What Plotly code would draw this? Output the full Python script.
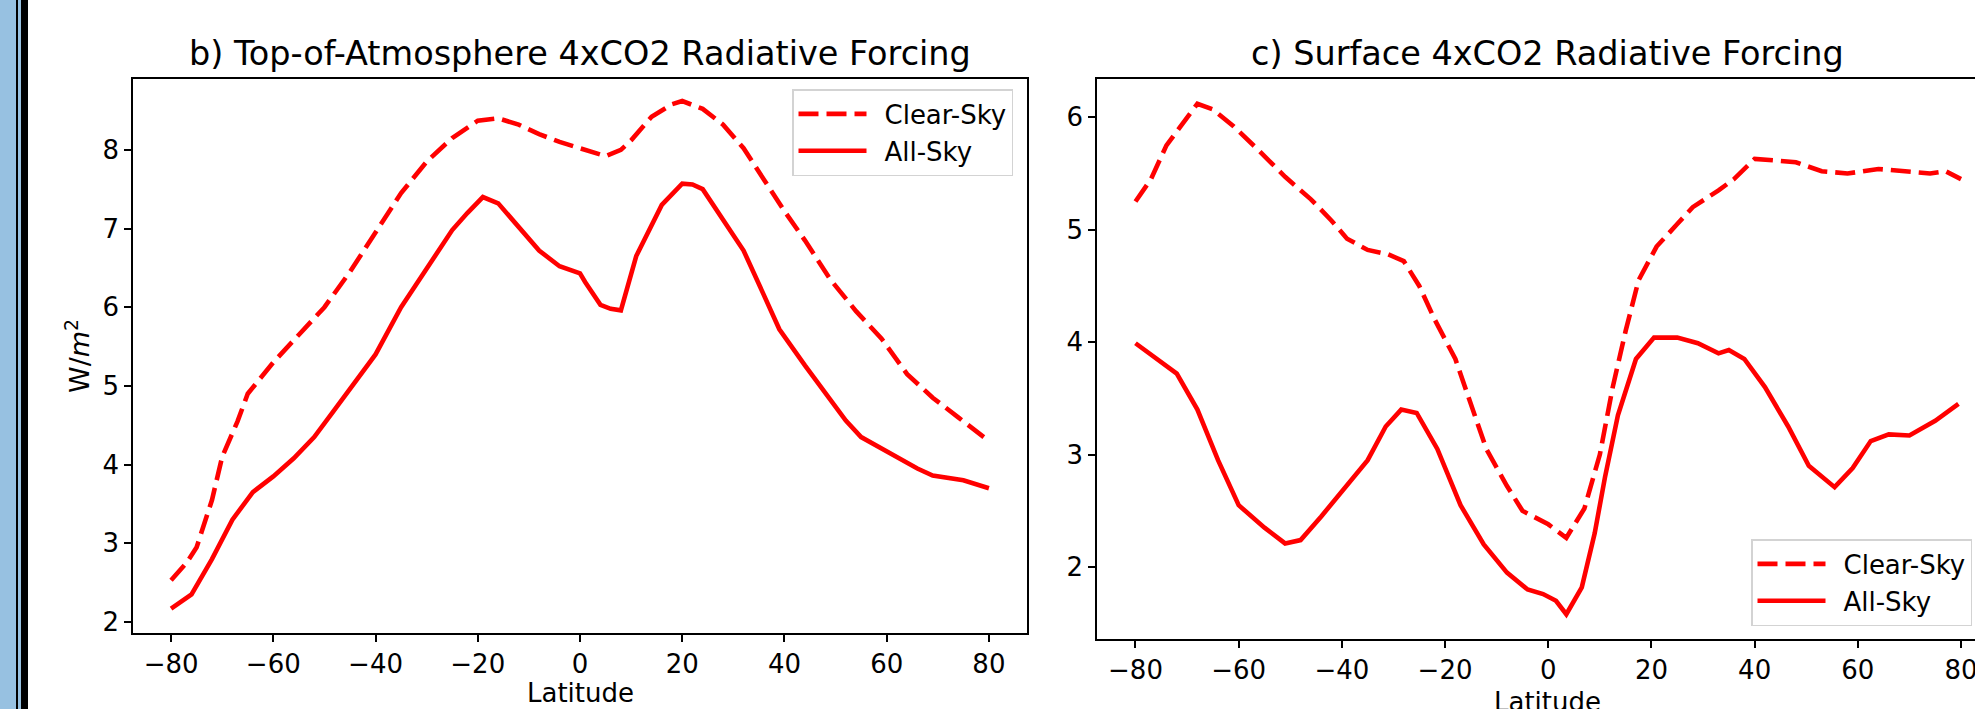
import plotly.graph_objects as go

W, H = 1975, 709

# ---------------- data ----------------
toa_clear_lat = [-80, -77, -75, -72, -70, -67, -65, -62, -60, -55, -50, -45, -40, -35, -30, -25,
                 -20, -16, -12, -8, -4, 0, 3, 5, 8, 10, 14, 18, 20, 24, 28, 32, 36, 40, 44,
                 49, 54, 59, 64, 69, 74, 80]
toa_clear = [2.53, 2.75, 2.95, 3.55, 4.1, 4.55, 4.9, 5.15, 5.3, 5.65, 6.0, 6.45, 6.95, 7.45, 7.85, 8.15,
             8.37, 8.4, 8.32, 8.2, 8.1, 8.02, 7.95, 7.92, 8.0, 8.12, 8.42, 8.58, 8.62, 8.52, 8.32, 8.02,
             7.62, 7.22, 6.85, 6.35, 5.95, 5.6, 5.15, 4.85, 4.6, 4.3]

toa_all_lat = [-80, -76, -72, -68, -64, -60, -56, -52, -48, -44, -40, -35, -30, -25, -22, -20, -19,
               -16, -12, -8, -4, 0, 1, 4, 6, 8, 11, 16, 20, 22, 24, 28, 32, 36, 39, 44, 49, 52, 55,
               59, 63, 66, 69, 75, 80]
toa_all = [2.17, 2.35, 2.8, 3.3, 3.65, 3.85, 4.08, 4.35, 4.7, 5.05, 5.4, 6.0, 6.5, 6.98, 7.2, 7.33,
           7.4, 7.32, 7.03, 6.72, 6.52, 6.43, 6.32, 6.03, 5.98, 5.96, 6.65, 7.3, 7.57, 7.56, 7.5,
           7.12, 6.72, 6.15, 5.72, 5.26, 4.83, 4.56, 4.35, 4.2, 4.05, 3.95, 3.86, 3.8, 3.7]

sfc_clear_lat = [-80, -77, -74, -70, -68, -65, -61, -56, -51, -46, -42, -39, -35, -31, -28, -25,
                 -22, -18, -15, -12, -8, -5, 0, 3.5, 7, 10, 12.5, 15, 17.5, 21, 25, 28, 33, 36, 40,
                 44, 48, 53, 58, 64, 69, 74, 77, 80]
sfc_clear = [5.25, 5.45, 5.75, 6.0, 6.12, 6.07, 5.92, 5.7, 5.47, 5.27, 5.08, 4.92, 4.82, 4.78, 4.72,
             4.5, 4.2, 3.85, 3.45, 3.05, 2.72, 2.5, 2.38, 2.26, 2.52, 3.0, 3.6, 4.1, 4.55, 4.85,
             5.05, 5.2, 5.35, 5.45, 5.63, 5.62, 5.6, 5.52, 5.5, 5.54, 5.52, 5.5, 5.52, 5.45]

sfc_all_lat = [-80, -76, -72, -68, -64, -60, -55, -51, -48, -44, -39, -35, -31.5, -28.5, -25.5,
               -21.5, -17, -12.5, -8, -4, -1, 1.5, 3.5, 6.5, 9, 11, 13.5, 17, 20.5, 25, 29, 33,
               35, 38, 42, 46.5, 50.5, 55.5, 59, 62.5, 66, 70, 75, 79.5]
sfc_all = [3.99, 3.85, 3.72, 3.4, 2.95, 2.55, 2.35, 2.21, 2.24, 2.45, 2.72, 2.95, 3.25, 3.4, 3.37,
           3.05, 2.55, 2.2, 1.95, 1.8, 1.76, 1.7, 1.58, 1.82, 2.3, 2.8, 3.35, 3.85, 4.04, 4.04,
           3.99, 3.9, 3.93, 3.85, 3.6, 3.25, 2.9, 2.71, 2.88, 3.12, 3.18, 3.17, 3.3, 3.45]

x_ticks = [-80, -60, -40, -20, 0, 20, 40, 60, 80]
x_ticktext = ["\u221280", "\u221260", "\u221240", "\u221220", "0", "20", "40", "60", "80"]
toa_yticks = [2, 3, 4, 5, 6, 7, 8]
sfc_yticks = [2, 3, 4, 5, 6]

titles = ["b) Top-of-Atmosphere 4xCO2 Radiative Forcing", "c) Surface 4xCO2 Radiative Forcing"]
series_names = ["Clear-Sky", "All-Sky"]

# ---------------- layout geometry (pixels) ----------------
FONT = "DejaVu Sans"
RED = "#ff0000"
L1, R1 = 133, 1027
L2 = 1097
TOP = 79
B1, B2 = 633, 639


def fx(px):
    return px / W


def fy(py):
    return (H - py) / H


def legend_label(s):
    # small gap between the legend line sample and its label, as in the original
    return "\u2002" + s


fig = go.Figure()

dash = "20px,8px"
lw = 4.6

fig.add_trace(go.Scatter(x=toa_clear_lat, y=toa_clear, mode="lines", name=legend_label(series_names[0]),
                         line=dict(color=RED, width=lw, dash=dash), xaxis="x", yaxis="y",
                         legend="legend", legendgroup="a"))
fig.add_trace(go.Scatter(x=toa_all_lat, y=toa_all, mode="lines", name=legend_label(series_names[1]),
                         line=dict(color=RED, width=lw), xaxis="x", yaxis="y",
                         legend="legend", legendgroup="b"))
fig.add_trace(go.Scatter(x=sfc_clear_lat, y=sfc_clear, mode="lines", name=legend_label(series_names[0]),
                         line=dict(color=RED, width=lw, dash=dash), xaxis="x2", yaxis="y2",
                         legend="legend2", legendgroup="c"))
fig.add_trace(go.Scatter(x=sfc_all_lat, y=sfc_all, mode="lines", name=legend_label(series_names[1]),
                         line=dict(color=RED, width=lw), xaxis="x2", yaxis="y2",
                         legend="legend2", legendgroup="d"))

axis_common = dict(showgrid=False, zeroline=False, showline=True, linecolor="black", linewidth=1.7,
                   ticks="outside", ticklen=7, tickwidth=1.6, tickcolor="black",
                   tickfont=dict(family=FONT, size=26, color="black"))

legend_common = dict(bgcolor="rgba(255,255,255,0.85)", bordercolor="#d3d3d3", borderwidth=1.5,
                     font=dict(family=FONT, size=26, color="black"), itemwidth=68,
                     tracegroupgap=8, traceorder="normal")

fig.update_layout(
    width=W, height=H,
    margin=dict(l=0, r=0, t=0, b=0, autoexpand=False),
    paper_bgcolor="white", plot_bgcolor="white",
    font=dict(family=FONT, size=26, color="black"),
    xaxis=dict(domain=[fx(L1), fx(R1)], range=[-87.45, 87.45], tickvals=x_ticks, ticktext=x_ticktext,
               mirror=True, anchor="y", **axis_common),
    yaxis=dict(domain=[fy(B1), fy(TOP)], range=[1.86, 8.90], tickvals=toa_yticks, mirror=True,
               anchor="x", **axis_common),
    xaxis2=dict(domain=[fx(L2), 1.0], range=[-87.46, 82.71], tickvals=x_ticks, ticktext=x_ticktext,
                mirror=True, anchor="y2", ticklabeloverflow="allow", **axis_common),
    yaxis2=dict(domain=[fy(B2), fy(TOP)], range=[1.36, 6.34], tickvals=sfc_yticks, mirror=False,
                anchor="x2", **axis_common),
    legend=dict(x=fx(1013), xanchor="right", y=fy(89), yanchor="top", **legend_common),
    legend2=dict(x=fx(1751), xanchor="left", y=fy(626), yanchor="bottom", **legend_common),
    showlegend=True,
)

# left-edge decorative frame strip
shapes = [
    dict(type="rect", xref="paper", yref="paper", x0=0, x1=fx(16), y0=0, y1=1,
         fillcolor="#97c1e1", line=dict(width=0)),
    dict(type="rect", xref="paper", yref="paper", x0=fx(16), x1=fx(18), y0=0, y1=1,
         fillcolor="black", line=dict(width=0)),
    dict(type="rect", xref="paper", yref="paper", x0=fx(18), x1=fx(21), y0=0, y1=1,
         fillcolor="#97c1e1", line=dict(width=0)),
    dict(type="rect", xref="paper", yref="paper", x0=fx(21), x1=fx(28), y0=0, y1=1,
         fillcolor="black", line=dict(width=0)),
]
fig.update_layout(shapes=shapes)

ann = [
    dict(text=titles[0], x=fx((L1 + R1) / 2), y=fy(54), xref="paper", yref="paper",
         xanchor="center", yanchor="middle", showarrow=False,
         font=dict(family=FONT, size=33.5, color="black")),
    dict(text=titles[1], x=fx(1547), y=fy(54), xref="paper", yref="paper",
         xanchor="center", yanchor="middle", showarrow=False,
         font=dict(family=FONT, size=33.5, color="black")),
    dict(text="Latitude", x=fx((L1 + R1) / 2), y=fy(693), xref="paper", yref="paper",
         xanchor="center", yanchor="middle", showarrow=False,
         font=dict(family=FONT, size=26, color="black")),
    dict(text="Latitude", x=fx(1547), y=fy(702), xref="paper", yref="paper",
         xanchor="center", yanchor="middle", showarrow=False,
         font=dict(family=FONT, size=26, color="black")),
    dict(text="W/<i>m</i><sup>2</sup>", x=fx(77), y=fy((TOP + B1) / 2), xref="paper", yref="paper",
         xanchor="center", yanchor="middle", showarrow=False, textangle=-90,
         font=dict(family=FONT, size=27, color="black")),
]
fig.update_layout(annotations=ann)

fig.write_html("out.html")
